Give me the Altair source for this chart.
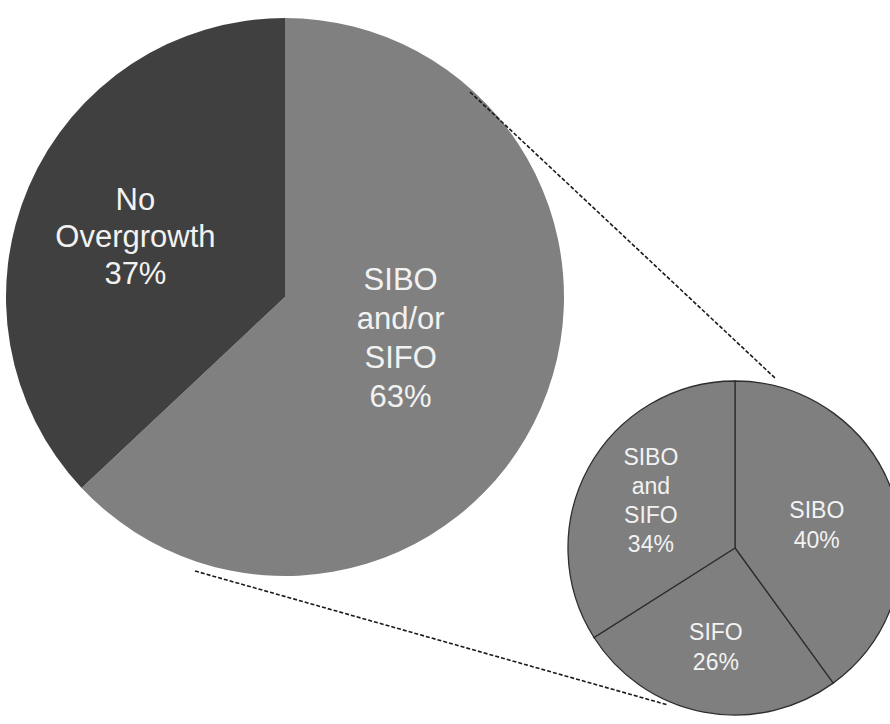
import altair as alt
import pandas as pd

# Overall split of the study group
main_labels = ["SIBO and/or SIFO", "No Overgrowth"]
main_pct = [63, 37]
main_colors = ["#808080", "#404040"]

# Breakdown of the overgrowth group
sub_labels = ["SIBO", "SIFO", "SIBO and SIFO"]
sub_pct = [40, 26, 34]
sub_colors = ["#7f7f7f", "#7f7f7f", "#7f7f7f"]

FONT = "Liberation Sans"
TEXT_COLOR = "#f2f2f2"

# pie centres and radii (pixels)
BIG = dict(cx=285, cy=297, r=279)
SMALL = dict(cx=735, cy=548, r=167)


def frame(labels, pct):
    text = [lab.replace(" ", "\n") + "\n" + f"{p}%" for lab, p in zip(labels, pct)]
    return pd.DataFrame({"cat": labels, "pct": pct,
                         "rank": list(range(len(labels))), "label": text})


def pie(df, colors, geo, stroke=None):
    props = dict(radius=geo["r"])
    if stroke:
        props.update(stroke=stroke, strokeWidth=1.3)
    return alt.Chart(df).mark_arc(**props).encode(
        theta=alt.Theta("pct:Q", stack=True),
        order=alt.Order("rank:Q"),
        color=alt.Color("cat:N", scale=alt.Scale(domain=list(df["cat"]), range=colors),
                        legend=None),
        x=alt.value(geo["cx"]),
        y=alt.value(geo["cy"]),
    )


def label(df, cat, geo, dist, size, line_h, shift=0):
    # centre the multi-line block on its anchor point
    n_lines = df.loc[df["cat"] == cat, "label"].iloc[0].count("\n") + 1
    return alt.Chart(df).transform_calculate(
        shown=f"datum.cat === '{cat}' ? datum.label : ''"
    ).mark_text(
        radius=dist, font=FONT, fontSize=size, lineHeight=line_h, lineBreak="\n",
        align="center", baseline="middle", color=TEXT_COLOR,
        dy=-(n_lines - 1) * line_h / 2 + shift,
    ).encode(
        theta=alt.Theta("pct:Q", stack=True),
        order=alt.Order("rank:Q"),
        detail="cat:N",
        text="shown:N",
        x=alt.value(geo["cx"]),
        y=alt.value(geo["cy"]),
    )


main_df = frame(main_labels, main_pct)
sub_df = frame(sub_labels, sub_pct)

big = alt.layer(
    pie(main_df, main_colors, BIG),
    label(main_df, "No Overgrowth", BIG, 163, 31, 37, shift=6),
    label(main_df, "SIBO and/or SIFO", BIG, 126, 31, 39, shift=-8),
)

small = alt.layer(
    pie(sub_df, sub_colors, SMALL, stroke="#2e2e2e"),
    label(sub_df, "SIBO", SMALL, 86, 23, 30, shift=5),
    label(sub_df, "SIFO", SMALL, 102, 23, 30),
    label(sub_df, "SIBO and SIFO", SMALL, 96, 23, 29),
)

one = pd.DataFrame({"k": [0]})


def connector(x, y, x2, y2):
    return alt.Chart(one).mark_rule(
        stroke="#1a1a1a", strokeWidth=1.6, strokeDash=[4, 2]
    ).encode(x=alt.value(x), y=alt.value(y), x2=alt.value(x2), y2=alt.value(y2))


chart = alt.layer(
    big,
    small,
    connector(470, 92, 775, 378),
    connector(195, 571, 668, 705),
).resolve_scale(
    theta="independent", color="independent"
).properties(
    width=890, height=724, padding=0,
    autosize=alt.AutoSizeParams(type="none"),
    background="white",
).configure_view(stroke=None)

chart.save("out.html", embed_options={"renderer": "svg", "actions": False})
